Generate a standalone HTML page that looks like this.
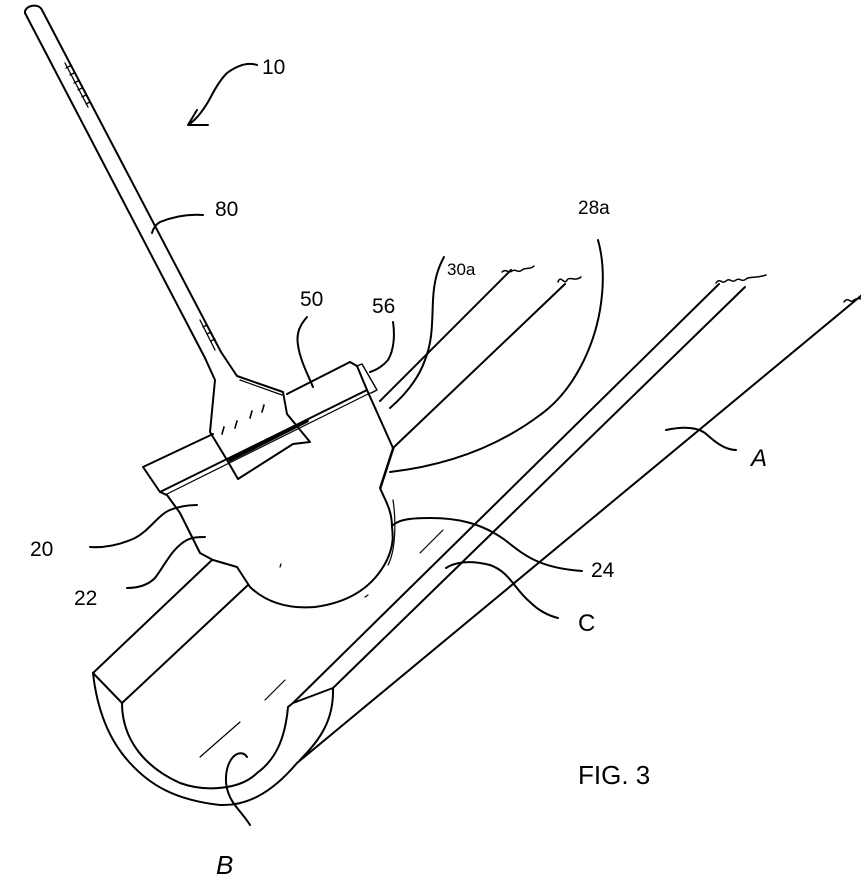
<!DOCTYPE html>
<html><head><meta charset="utf-8"><style>
html,body{margin:0;padding:0;background:#fff}
svg{display:block}
text{font-family:"Liberation Sans",sans-serif;fill:#000}
</style></head><body>
<svg width="861" height="879" viewBox="0 0 861 879" xmlns="http://www.w3.org/2000/svg">
<g fill="none" stroke="#000" stroke-width="2" stroke-linecap="round" stroke-linejoin="round">
<!-- pole -->
<path d="M25,13 C24,6 38,2 42,10 L221,352"/>
<path d="M25,13 L205,358"/>
<path d="M65,63 L88,107 M66,68 l4,-2 M70,75 l4,-2 M74,83 l4,-2 M78,90 l4,-2 M82,97 l4,-2 M86,104 l4,-2" stroke-width="1.3"/>
<path d="M200,320 L215,350 M203,327 l4,-2 M207,334 l4,-2 M211,341 l4,-2" stroke-width="1.3"/>
<!-- handle head -->
<path d="M205,358 L215,380 L210,432 L227,460 L238,479"/>
<path d="M221,352 L237,376 L283,392 L287,414 L310,442 L293,444 L238,479"/>
<path d="M240,380 L282,395" stroke-width="1.2"/>
<path d="M222,434 l2,-7 M235,428 l2,-7 M250,418 l2,-7 M262,412 l2,-7" stroke-width="1.6"/>
<!-- bar 50 -->
<path d="M213,434 L143,467 L160,492 L367,390 M287,394 L350,362 L357,366 L367,390"/>
<path d="M165,495 L370,393" stroke-width="1.2"/>
<path d="M230,460 L307,421" stroke-width="3.5"/>
<path d="M357,366 L362,364 L377,390 L371,393" stroke-width="1.4"/>
<!-- plate 20 -->
<path d="M160,492 L167,495 L180,513 L200,553 L213,560 L237,567 L250,587 C268,604 290,609 315,607 C345,603 372,590 387,560 C394,545 393,535 392,527 C392,510 385,500 380,488 L393,448 L367,390"/>
<path d="M394,448 L381,488 M393,500 C396,520 396,550 388,565" stroke-width="1.2"/>
<!-- gutter -->
<path d="M93,673 L212,560 M122,703 L248,585"/>
<path d="M93,673 L122,703"/>
<path d="M93,673 C96,700 104,735 130,763 C150,785 175,800 220,805 C245,806 270,795 297,763 L862,295"/>
<path d="M122,703 C122,735 140,765 180,783 C205,792 240,790 257,773 C275,760 285,740 288,707 L293,703 L333,688 C334,720 320,740 300,760"/>
<path d="M293,703 L719,284 M333,688 L745,287"/>
<path d="M380,401 L511,270 M393,448 L565,284"/>
<path d="M502,272 c4,-4 6,2 10,-1 c4,-3 6,3 10,-1 c4,-3 8,0 12,-4 M558,282 c3,-8 6,4 9,-2 c3,-4 8,2 14,-3 M716,283 c4,-6 6,2 10,-2 c4,-4 6,3 10,-1 c4,-3 6,3 10,-1 c4,-3 8,0 20,-4 M844,302 c4,-6 6,2 10,-2 c4,-3 8,0 10,-2" stroke-width="1.5"/>
<!-- dashes -->
<path d="M200,757 L240,722 M265,700 L285,680 M420,553 L443,530 M280,567 l1,-3 M365,597 l3,-2" stroke-width="1.2"/>
<!-- leaders -->
<path d="M257,65 C248,62 238,65 227,73 C218,82 212,95 208,102 C202,112 196,120 188,125 M188,125 L197,110 M188,125 L208,125"/>
<path d="M203,215 C190,214 175,216 160,222 C155,225 153,229 152,233"/>
<path d="M307,317 C300,325 296,333 298,345 C300,360 308,375 313,387"/>
<path d="M393,322 C395,335 394,350 388,360 C383,366 376,370 370,372"/>
<path d="M444,257 C438,268 434,280 433,300 C432,320 433,340 425,360 C418,380 405,395 390,408"/>
<path d="M598,240 C603,258 605,280 600,310 C594,345 575,390 540,415 C500,445 450,465 390,472"/>
<path d="M666,430 C680,427 695,426 705,433 C715,442 725,450 736,450"/>
<path d="M392,526 C398,520 408,518 430,518 C455,518 480,522 505,540 C525,556 540,568 582,571"/>
<path d="M446,568 C455,562 470,560 490,565 C510,572 515,590 530,602 C540,612 550,616 558,618"/>
<path d="M90,547 C105,548 120,545 135,538 C150,530 158,515 170,510 C180,506 190,505 197,505"/>
<path d="M127,588 C138,588 148,585 155,578 C165,565 172,548 187,540 C193,537 200,537 205,537"/>
<path d="M247,757 C244,752 238,752 233,757 C226,765 224,780 228,792 C232,805 242,812 250,825"/>
</g>
<g font-size="21">
<text x="262" y="74">10</text>
<text x="215" y="216">80</text>
<text x="300" y="306">50</text>
<text x="372" y="313">56</text>
<text x="447" y="275" font-size="17">30a</text>
<text x="578" y="214" font-size="19">28a</text>
<text x="751" y="466" font-size="24" font-style="italic">A</text>
<text x="591" y="577">24</text>
<text x="578" y="631" font-size="24">C</text>
<text x="30" y="556">20</text>
<text x="74" y="605">22</text>
<text x="216" y="874" font-size="26" font-style="italic">B</text>
<text x="578" y="784" font-size="26">FIG. 3</text>
</g>
</svg>
</body></html>
